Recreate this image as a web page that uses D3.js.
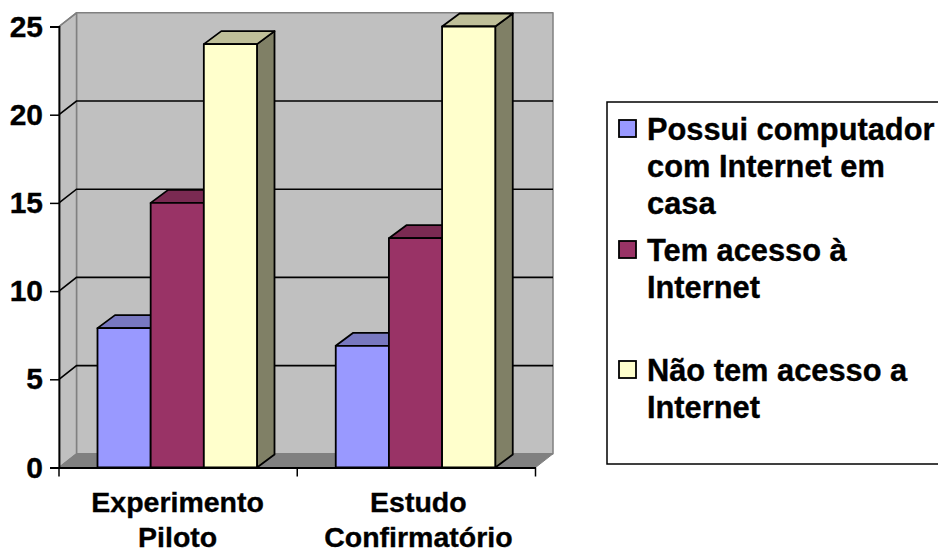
<!DOCTYPE html>
<html>
<head>
<meta charset="utf-8">
<script src="https://cdn.jsdelivr.net/npm/d3@7"></script>
<style>
  html, body { margin: 0; padding: 0; background: #fff; overflow: hidden; }
  text { font-family: "Liberation Sans", Arial, sans-serif; font-weight: bold; fill: #000; stroke: #000; stroke-width: 0.35px; }
</style>
</head>
<body>
<div id="vis"></div>
<script>
// chart data
const CATEGORIES = ["Experimento Piloto", "Estudo Confirmatório"];
const SERIES = ["Possui computador com Internet em casa", "Tem acesso à Internet", "Não tem acesso a Internet"];
const POSSUI = [7.9, 6.9];
const TEM_ACESSO = [15, 13];
const NAO_TEM = [24, 25];
const Y_TICKS = [0, 5, 10, 15, 20, 25];
const CATEGORY_LINES = [["Experimento", "Piloto"], ["Estudo", "Confirmatório"]];
const LEGEND_LINES = [
  ["Possui computador", "com Internet em", "casa"],
  ["Tem acesso à", "Internet"],
  ["Não tem acesso a", "Internet"]
];

const VALUES = [POSSUI, TEM_ACESSO, NAO_TEM];

const FRAME_WIDTH = 938;
const FRAME_HEIGHT = 550;
const DEPTH_X = 17.5;
const DEPTH_Y = 13.7;
const BAR_DEPTH_X = 17.5;
const BAR_DEPTH_Y = 13;

// front, top and side colours of each series
const FRONT = ["#9999ff", "#993366", "#ffffcc"];
const TOP = ["#7878c0", "#7a2a52", "#bfbf99"];
const SIDE = ["#666699", "#662244", "#808066"];

const FRAME = d3.select("#vis")
                .append("svg")
                  .attr("width", FRAME_WIDTH)
                  .attr("height", FRAME_HEIGHT);

const Y_SCALE = d3.scaleLinear().domain([0, 25]).range([467.5, 26.5]);
const X_SCALE = d3.scaleBand().domain(CATEGORIES).range([59, 535.5]);
const BAR_SCALE = d3.scaleBand().domain(SERIES).range([38.5, 198]);

const X0 = X_SCALE.range()[0];
const X1 = X_SCALE.range()[1];
const Y0 = Y_SCALE(0);
const YTOP = Y_SCALE(25);

function poly(points, fill, stroke, width) {
  return FRAME.append("polygon")
    .attr("points", points.map((p) => p.join(",")).join(" "))
    .attr("fill", fill)
    .attr("stroke", stroke)
    .attr("stroke-width", width)
    .attr("stroke-linejoin", "round");
}

// walls and floor
poly([[X0 + DEPTH_X, YTOP - DEPTH_Y], [X1 + DEPTH_X, YTOP - DEPTH_Y], [X1 + DEPTH_X, Y0 - DEPTH_Y], [X0 + DEPTH_X, Y0 - DEPTH_Y]], "#c0c0c0", "#808080", 1.5);
poly([[X0, YTOP], [X0 + DEPTH_X, YTOP - DEPTH_Y], [X0 + DEPTH_X, Y0 - DEPTH_Y], [X0, Y0]], "#c0c0c0", "#808080", 1.5);
poly([[X0, Y0], [X0 + DEPTH_X, Y0 - DEPTH_Y], [X1 + DEPTH_X, Y0 - DEPTH_Y], [X1, Y0]], "#808080", "#808080", 1);

// gridlines run across the side wall and the back wall
const GRID = Y_TICKS.filter((t) => t > 0 && t < 25);
FRAME.append("g").selectAll("polyline")
  .data(GRID)
  .enter()
  .append("polyline")
    .attr("points", (d) => [[X0, Y_SCALE(d)], [X0 + DEPTH_X, Y_SCALE(d) - DEPTH_Y], [X1 + DEPTH_X, Y_SCALE(d) - DEPTH_Y]].map((p) => p.join(",")).join(" "))
    .attr("fill", "none")
    .attr("stroke", "#000")
    .attr("stroke-width", 1.6);

// side wall top edge
FRAME.append("line")
  .attr("x1", X0).attr("y1", YTOP)
  .attr("x2", X0 + DEPTH_X).attr("y2", YTOP - DEPTH_Y)
  .attr("stroke", "#808080").attr("stroke-width", 1.5);

// bars, left to right so every bar covers the side of the one before
CATEGORIES.forEach((cat, c) => {
  SERIES.forEach((name, s) => {
    const v = VALUES[s][c];
    const x = X_SCALE(cat) + BAR_SCALE(name);
    const w = BAR_SCALE.bandwidth();
    const y = Y_SCALE(v);
    poly([[x + w, y], [x + w + BAR_DEPTH_X, y - BAR_DEPTH_Y], [x + w + BAR_DEPTH_X, Y0 - BAR_DEPTH_Y], [x + w, Y0]], SIDE[s], "#000", 1.8);
    poly([[x, y], [x + BAR_DEPTH_X, y - BAR_DEPTH_Y], [x + w + BAR_DEPTH_X, y - BAR_DEPTH_Y], [x + w, y]], TOP[s], "#000", 1.8);
    poly([[x, y], [x + w, y], [x + w, Y0], [x, Y0]], FRONT[s], "#000", 1.8);
  });
});

// axes
const Y_AXIS = FRAME.append("g")
  .attr("transform", "translate(" + X0 + ",0)")
  .call(d3.axisLeft(Y_SCALE).tickValues(Y_TICKS).tickSize(9).tickPadding(7));
Y_AXIS.selectAll("text").attr("font-size", "30px").attr("font-family", null);

const X_AXIS = FRAME.append("g")
  .attr("transform", "translate(0," + Y0 + ")")
  .call(d3.axisBottom(X_SCALE).tickFormat("").tickSize(0));

// category boundary ticks
FRAME.append("g").selectAll("line")
  .data(CATEGORIES.concat(["end"]))
  .enter()
  .append("line")
    .attr("x1", (d) => d === "end" ? X1 : X_SCALE(d))
    .attr("x2", (d) => d === "end" ? X1 : X_SCALE(d))
    .attr("y1", Y0)
    .attr("y2", Y0 + 9)
    .attr("stroke", "#000")
    .attr("stroke-width", 1.5);

FRAME.selectAll("g path.domain").attr("stroke", "#000").attr("stroke-width", 1.8);
FRAME.selectAll("g .tick line").attr("stroke", "#000").attr("stroke-width", 1.5);

// category labels
CATEGORIES.forEach((cat, c) => {
  FRAME.append("text")
    .attr("text-anchor", "middle")
    .attr("font-size", "28.5px")
    .selectAll("tspan")
    .data(CATEGORY_LINES[c])
    .enter()
    .append("tspan")
      .attr("x", X_SCALE(cat) + X_SCALE.bandwidth() / 2 + (c === 0 ? -0.5 : 2))
      .attr("y", (d, i) => 512 + i * 35)
      .text((d) => d);
});

// legend
FRAME.append("rect")
  .attr("x", 607).attr("y", 102)
  .attr("width", 400).attr("height", 362)
  .attr("fill", "#fff")
  .attr("stroke", "#000")
  .attr("stroke-width", 1.5);

const LEGEND_ROWS = [140, 261, 381];
SERIES.forEach((name, s) => {
  FRAME.append("rect")
    .attr("x", 619).attr("y", LEGEND_ROWS[s] - 20)
    .attr("width", 17).attr("height", 17)
    .attr("fill", FRONT[s])
    .attr("stroke", "#000")
    .attr("stroke-width", 1.8);
  FRAME.append("g").selectAll("text")
    .data(LEGEND_LINES[s])
    .enter()
    .append("text")
      .attr("x", 647)
      .attr("y", (d, i) => LEGEND_ROWS[s] + i * 37)
      .attr("font-size", "30.8px")
      .text((d) => d);
});
</script>
</body>
</html>
